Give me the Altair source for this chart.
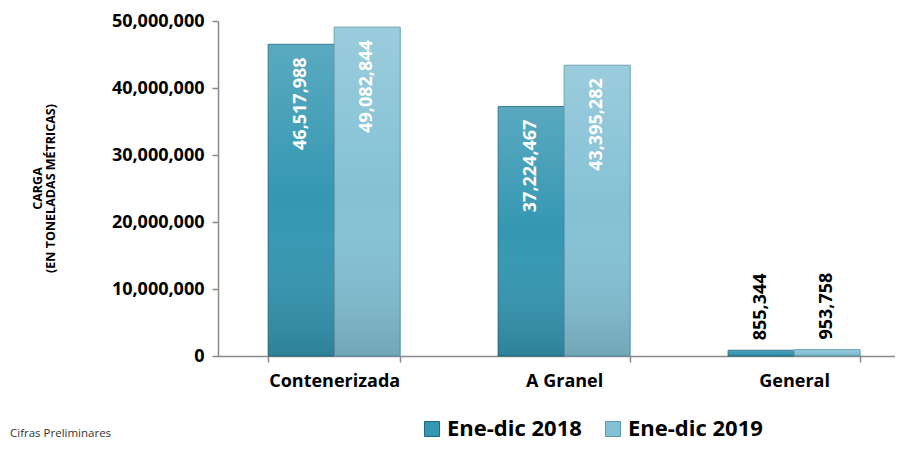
import altair as alt
import pandas as pd

categorias = ["Contenerizada", "A Granel", "General"]
series = ["Ene-dic 2018", "Ene-dic 2019"]
valores_2018 = [46517988, 37224467, 855344]
valores_2019 = [49082844, 43395282, 953758]
ticks_y = [0, 10000000, 20000000, 30000000, 40000000, 50000000]
nota = "Cifras Preliminares"

rows = []
for c, a, b in zip(categorias, valores_2018, valores_2019):
    rows.append({"cat": c, "serie": series[0], "valor": a})
    rows.append({"cat": c, "serie": series[1], "valor": b})
df = pd.DataFrame(rows)

FONT = "Open Sans"

base = alt.Chart(df).encode(
    x=alt.X("cat:N", sort=categorias,
            scale=alt.Scale(paddingInner=0.426, paddingOuter=0.185, align=0.59),
            axis=alt.Axis(title=None, labelAngle=0, tickBand="extent", tickSize=6,
                          labelPadding=10, labelFontSize=18)),
    xOffset=alt.XOffset("serie:N", sort=series,
                        scale=alt.Scale(paddingInner=0, paddingOuter=0)),
    y=alt.Y("valor:Q", scale=alt.Scale(domain=[0, 50000000], nice=False),
            axis=alt.Axis(values=ticks_y,
                          labelExpr="format(datum.value, ',')",
                          tickSize=6, labelPadding=8, grid=False,
                          labelFontSize=18,
                          title=["CARGA", "(EN TONELADAS MÉTRICAS)"],
                          titleFontSize=12.5, titleFont=FONT, titleFontWeight="bold",
                          titleLineHeight=13,
                          titleAngle=270, titleX=-181, titleY=167,
                          titleAlign="center", titleBaseline="middle")),
)

bars = base.mark_bar(strokeWidth=1).encode(
    color=alt.Color("serie:N", sort=series,
                    scale=alt.Scale(domain=series, range=["#3597b2", "#84c1d5"]),
                    legend=alt.Legend(title=None, orient="none", legendX=203, legendY=397,
                                      direction="horizontal", symbolType="square",
                                      symbolSize=225, labelFontSize=22, labelFont=FONT,
                                      labelFontWeight="bold", labelColor="black",
                                      columnPadding=20, labelOffset=4, padding=0,
                                      symbolStrokeColor="#2a6f82", symbolStrokeWidth=1)),
    stroke=alt.Stroke("serie:N", sort=series,
                      scale=alt.Scale(domain=series, range=["#1f6a7e", "#5d98ab"]),
                      legend=None),
)

shade = base.mark_bar(
    fill={"gradient": "linear", "x1": 0, "y1": 0, "x2": 0, "y2": 1,
          "stops": [{"offset": 0, "color": "rgba(255,255,255,0.18)"},
                    {"offset": 0.5, "color": "rgba(255,255,255,0.0)"},
                    {"offset": 1, "color": "rgba(0,0,0,0.14)"}]},
    stroke=None,
)

big = base.transform_filter("datum.valor > 5000000").mark_text(
    angle=270, align="right", baseline="middle", dx=-13, color="white",
    font=FONT, fontSize=18, fontWeight="bold"
).encode(text=alt.Text("valor:Q", format=","))

small = base.transform_filter("datum.valor <= 5000000").mark_text(
    angle=270, align="left", baseline="middle", dx=10, color="black",
    font=FONT, fontSize=18, fontWeight="bold"
).encode(text=alt.Text("valor:Q", format=","))

foot = alt.Chart(pd.DataFrame({"t": [nota]})).mark_text(
    align="left", baseline="middle", font=FONT, fontSize=11.5, color="#333333"
).encode(x=alt.value(-208), y=alt.value(413), text="t:N")

chart = alt.layer(bars, shade, big, small, foot).properties(
    width=677, height=335,
    padding={"left": 210, "top": 13, "right": 0, "bottom": 85},
    autosize=alt.AutoSizeParams(type="none"),
).configure_axis(
    domainColor="#8a8a8a", tickColor="#8a8a8a", labelFont=FONT,
    labelFontWeight="bold", labelColor="black", domainWidth=1.5, tickWidth=1.5,
).configure_view(stroke=None)

chart.save("out.html", embed_options={"renderer": "svg", "actions": False})
